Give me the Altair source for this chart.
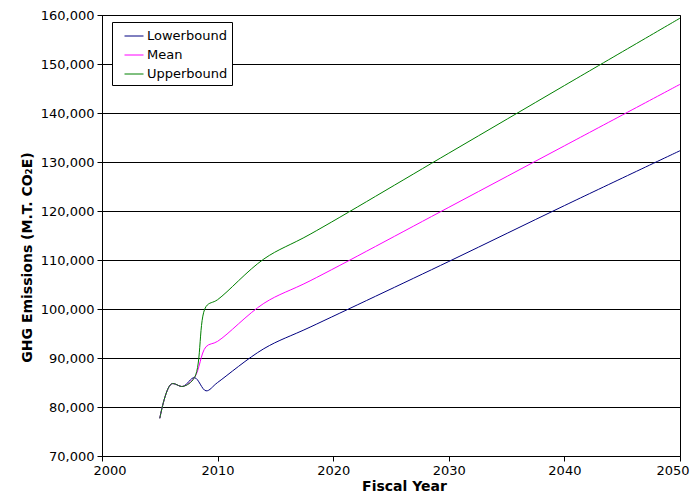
import altair as alt
import pandas as pd

years = [2005, 2006, 2007, 2008, 2009, 2010, 2014, 2018, 2030, 2040, 2050]
lowerbound = [77700, 84700, 84200, 86000, 83300, 85000, 91900, 96300, 109700, 121100, 132300]
mean = [77700, 84700, 84200, 86000, 92300, 93400, 101150, 105750, 120750, 133300, 145850]
upperbound = [77700, 84700, 84200, 86000, 100500, 101900, 110200, 115250, 131800, 145600, 159350]

series = ["Lowerbound", "Mean", "Upperbound"]
colors = ["#000080", "#FF00FF", "#008000"]

rows = []
for name, vals in zip(series, [lowerbound, mean, upperbound]):
    for y, v in zip(years, vals):
        rows.append({"Year": y, "Value": v, "Series": name})
df = pd.DataFrame(rows)

font = "DejaVu Sans"

chart = alt.Chart(df).mark_line(strokeWidth=1, interpolate="catmull-rom").encode(
    x=alt.X("Year:Q", scale=alt.Scale(domain=[2000, 2050], nice=False),
            axis=alt.Axis(values=[2000, 2010, 2020, 2030, 2040, 2050], format="d",
                          grid=False, title="Fiscal Year", titleFontWeight="bold",
                          titleFontSize=14, titlePadding=2, titleX=302,
                          labelFontSize=13, labelPadding=3, tickSize=5,
                          labelFlush=True, labelFlushOffset=9)),
    y=alt.Y("Value:Q", scale=alt.Scale(domain=[70000, 160000], nice=False, zero=False),
            axis=alt.Axis(values=list(range(70000, 160001, 10000)), format=",d",
                          grid=True, gridColor="black", gridOpacity=1, gridWidth=1,
                          title="GHG Emissions (M.T. CO₂E)", titleFontWeight="bold",
                          titleFontSize=14, titlePadding=6, titleY=242,
                          labelFontSize=13, labelPadding=3, tickSize=5)),
    color=alt.Color("Series:N", scale=alt.Scale(domain=series, range=colors),
                    legend=alt.Legend(title=None, orient="none", legendX=10, legendY=7,
                                      fillColor="white", strokeColor="black",
                                      padding=4, symbolType="stroke", symbolSize=361,
                                      symbolOffset=8, labelOffset=3,
                                      symbolStrokeWidth=1, labelFontSize=13,
                                      rowPadding=2, labelFont=font)),
).properties(
    width=578, height=441,
    autosize=alt.AutoSizeParams(type="none"),
    padding={"left": 94, "top": 7, "right": 10, "bottom": 40},
).configure_view(stroke="black").configure_axis(
    domainColor="black", tickColor="black", labelColor="black", titleColor="black",
    labelFont=font, titleFont=font
)

chart.save("out.html", embed_options={"renderer": "svg", "actions": False})
